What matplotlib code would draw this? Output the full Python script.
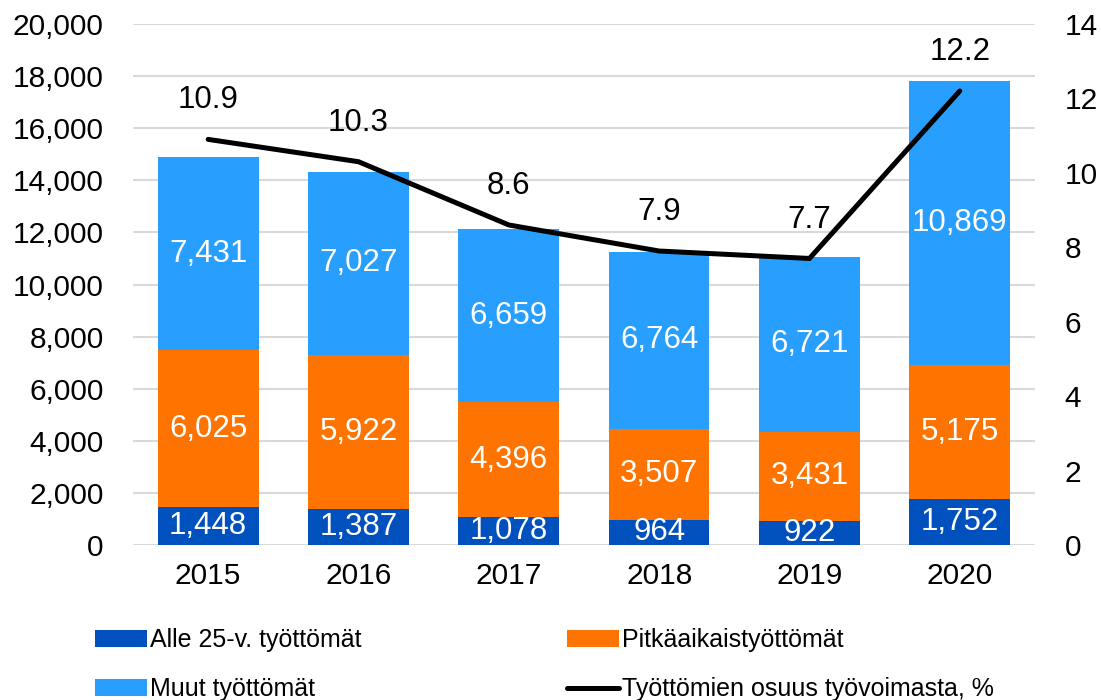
import matplotlib.pyplot as plt
from matplotlib.ticker import FuncFormatter
import numpy as np

years = ['2015', '2016', '2017', '2018', '2019', '2020']
alle_25 = [1448, 1387, 1078, 964, 922, 1752]
pitkaaikais = [6025, 5922, 4396, 3507, 3431, 5175]
muut = [7431, 7027, 6659, 6764, 6721, 10869]
osuus = [10.9, 10.3, 8.6, 7.9, 7.7, 12.2]

plt.rcParams['font.family'] = ['Liberation Sans', 'DejaVu Sans']

c_dark = '#0050BE'
c_orange = '#FF7300'
c_light = '#289FFF'

fig = plt.figure(figsize=(11.01, 7), dpi=100)
ax = fig.add_axes([0.1208, 0.2214, 0.8192, 0.7443])
ax2 = ax.twinx()

x = np.arange(len(years))
w = 0.67
b1 = ax.bar(x, alle_25, w, color=c_dark, zorder=2)
bottom2 = np.array(alle_25)
b2 = ax.bar(x, pitkaaikais, w, bottom=bottom2, color=c_orange, zorder=2)
bottom3 = bottom2 + np.array(pitkaaikais)
b3 = ax.bar(x, muut, w, bottom=bottom3, color=c_light, zorder=2)

fs_tick = 21.5
fs_lab = 22.5
for vals, bot in [(alle_25, np.zeros(6)), (pitkaaikais, bottom2), (muut, bottom3)]:
  for i, v in enumerate(vals):
    ax.text(x[i], bot[i] + v / 2, f'{v:,}', ha='center', va='center',
            color='white', fontsize=fs_lab, zorder=3, clip_on=True)

ax.set_ylim(0, 20000)
ax.set_yticks(np.arange(0, 20001, 2000))
ax.yaxis.set_major_formatter(FuncFormatter(lambda v, p: f'{int(v):,}'))
ax.set_xlim(-0.5, len(years) - 0.5)
ax.set_xticks(x)
ax.set_xticklabels(years)
ax.grid(axis='y', color='#D9D9D9', linewidth=1.5, zorder=0)
ax.set_axisbelow(True)

line, = ax2.plot(x, osuus, color='black', linewidth=3.6, solid_capstyle='round',
                 solid_joinstyle='miter', zorder=4)
for i, v in enumerate(osuus):
  ax2.annotate(f'{v}', (x[i], v), xytext=(0, 28), textcoords='offset points',
               ha='center', va='center', fontsize=fs_lab, color='black')
ax2.set_ylim(0, 14)
ax2.set_yticks(np.arange(0, 15, 2))

for a in (ax, ax2):
  for s in a.spines.values():
    s.set_visible(False)
  a.tick_params(length=0, labelsize=fs_tick, colors='black')
ax.tick_params(axis='y', pad=21)
ax2.tick_params(axis='y', pad=21.5)
ax.tick_params(axis='x', pad=12)

ax.set_zorder(1)
ax2.set_zorder(2)
ax2.patch.set_visible(False)

# column-major fill: col 1 = Alle, Muut ; col 2 = Pitkä, line
leg = fig.legend([b1, b3, b2, line],
                 ['Alle 25-v. työttömät', 'Muut työttömät', 'Pitkäaikaistyöttömät',
                  'Työttömien osuus työvoimasta, %'],
                 loc='upper left', bbox_to_anchor=(0.0772, 0.1165), ncol=2, frameon=False,
                 fontsize=18, borderaxespad=0, borderpad=0.4,
                 handlelength=2.08, handleheight=0.64, handletextpad=0.12,
                 columnspacing=8.24, labelspacing=1.0)

fig.savefig('out.png', dpi=100)
